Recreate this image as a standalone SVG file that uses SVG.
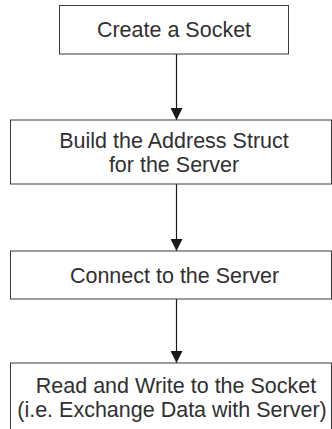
<svg xmlns="http://www.w3.org/2000/svg" width="332" height="429" viewBox="0 0 332 429">
  <style>
    .box { fill: #ffffff; stroke: #3a3a3a; stroke-width: 1; }
    .label { font-family: "Liberation Sans", Arial, sans-serif; font-size: 21.5px; fill: #303030; text-anchor: middle; }
    .link { stroke: #1a1a1a; stroke-width: 1.2; fill: none; marker-end: url(#head); }
  </style>
  <defs>
    <marker id="head" viewBox="0 0 12 12" refX="12" refY="6" markerWidth="12" markerHeight="12" markerUnits="userSpaceOnUse" orient="auto">
      <path d="M0,0 L12,6 L0,12 Z" fill="#1a1a1a"/>
    </marker>
  </defs>
  <rect width="332" height="429" fill="#ffffff"/>

  <g id="connectors">
    <line class="link" x1="176.5" y1="54" x2="176.5" y2="120"/>
    <line class="link" x1="176.5" y1="184" x2="176.5" y2="251"/>
    <line class="link" x1="176.5" y1="299" x2="176.5" y2="363"/>
  </g>

  <g id="create-socket">
    <rect class="box" x="59.5" y="5.5" width="229" height="48.5"/>
    <text class="label" x="174" y="37">Create a Socket</text>
  </g>

  <g id="build-address">
    <rect class="box" x="10.5" y="120" width="321" height="64"/>
    <text class="label" x="174" y="147.5">Build the Address Struct</text>
    <text class="label" x="174" y="171.5">for the Server</text>
  </g>

  <g id="connect-server">
    <rect class="box" x="10.5" y="251" width="321" height="48"/>
    <text class="label" x="174.5" y="283">Connect to the Server</text>
  </g>

  <g id="read-write">
    <rect class="box" x="10.5" y="363" width="321" height="80"/>
    <text class="label" x="176" y="392.5">Read and Write to the Socket</text>
    <text class="label" x="172" y="417">(i.e. Exchange Data with Server)</text>
  </g>
</svg>
